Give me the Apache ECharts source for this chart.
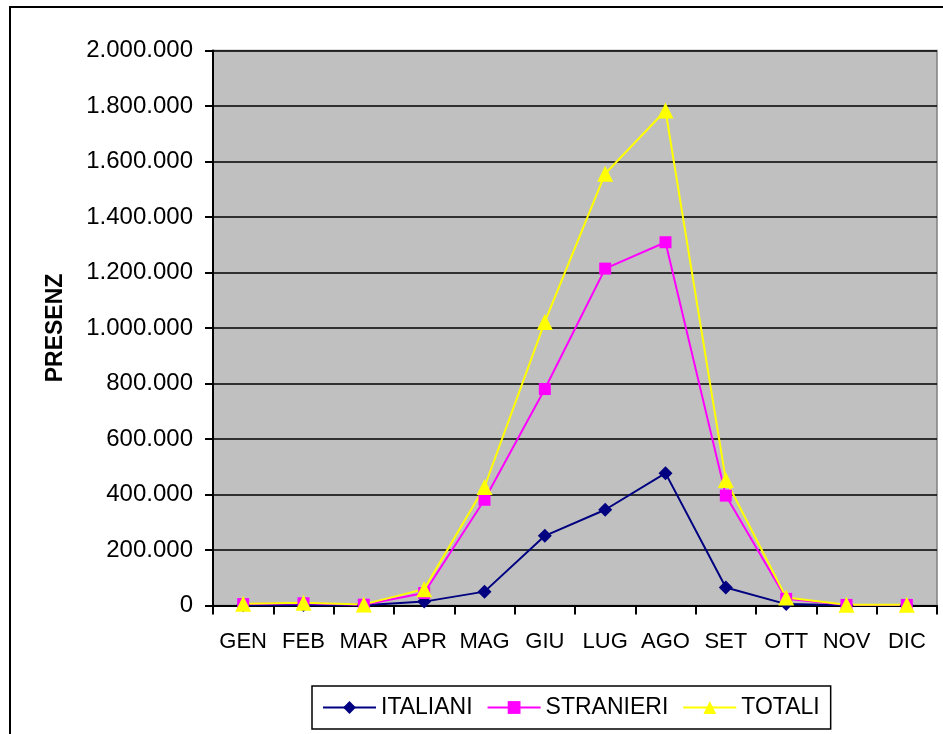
<!DOCTYPE html>
<html>
<head>
<meta charset="utf-8">
<script src="https://cdn.jsdelivr.net/npm/echarts@6/dist/echarts.min.js"></script>
<style>
html,body{margin:0;padding:0;background:#fff;}
#chart{width:943px;height:734px;}
</style>
</head>
<body>
<div id="chart"></div>
<script>
var categories = ['GEN','FEB','MAR','APR','MAG','GIU','LUG','AGO','SET','OTT','NOV','DIC'];
var italiani  = [1000, 2000, 1000, 14000, 50000, 251000, 345000, 477000, 65000, 5000, 500, 500];
var stranieri = [5000, 8000, 3000, 45000, 381000, 780000, 1214000, 1309000, 396000, 24000, 2000, 2000];
var totali    = [6000, 10000, 4000, 59000, 427000, 1022000, 1556000, 1784000, 452000, 29000, 2500, 2500];
var yTicks = { min: 0, max: 2000000, interval: 200000 };

function fmt(v){
  return String(v).replace(/\B(?=(\d{3})+(?!\d))/g, '.');
}

var chart = echarts.init(document.getElementById('chart'), null, {renderer:'canvas'});
var font = 'Liberation Sans, Arial, sans-serif';
chart.setOption({
  animation: false,
  textStyle: { fontFamily: font },
  graphic: [{
    type: 'rect',
    shape: { x: 10, y: 7, width: 1000, height: 1000 },
    style: { fill: 'none', stroke: '#000', lineWidth: 2 },
    z: -1
  }],
  grid: {
    left: 213, top: 50.5, right: 6, bottom: 128.5,
    show: true, backgroundColor: '#C0C0C0', borderColor: '#808080', borderWidth: 1.5
  },
  legend: {
    left: 312, top: 686,
    padding: [10, 11, 10, 10],
    borderColor: '#000', borderWidth: 1.5,
    itemWidth: 53, itemHeight: 16, itemGap: 14,
    textStyle: { fontFamily: font, fontSize: 23, color: '#000' },
    data: ['ITALIANI','STRANIERI','TOTALI']
  },
  xAxis: {
    type: 'category', data: categories, boundaryGap: true,
    axisLine: { lineStyle: { color: '#000', width: 2 } },
    axisTick: { show: true, length: 9, lineStyle: { color: '#000', width: 2 } },
    axisLabel: { color: '#000', fontSize: 22, fontFamily: font, margin: 25, interval: 0 }
  },
  yAxis: {
    type: 'value', min: yTicks.min, max: yTicks.max, interval: yTicks.interval,
    name: 'PRESENZ', nameLocation: 'middle', nameRotate: 90, nameGap: 146,
    nameTextStyle: { fontWeight: 'bold', fontSize: 23, color: '#000', fontFamily: font },
    axisLine: { show: true, lineStyle: { color: '#000', width: 2 } },
    axisTick: { show: true, length: 8, lineStyle: { color: '#000', width: 2 } },
    axisLabel: { color: '#000', fontSize: 24, fontFamily: font, margin: 20, formatter: fmt },
    splitLine: { show: true, lineStyle: { color: '#000', width: 1.5 } }
  },
  series: [
    { name: 'ITALIANI', type: 'line', data: italiani, symbol: 'diamond', symbolSize: 14,
      lineStyle: { color: '#000080', width: 2 }, itemStyle: { color: '#000080' } },
    { name: 'STRANIERI', type: 'line', data: stranieri, symbol: 'rect', symbolSize: 12,
      lineStyle: { color: '#FF00FF', width: 2 }, itemStyle: { color: '#FF00FF' } },
    { name: 'TOTALI', type: 'line', data: totali, symbol: 'triangle', symbolSize: 16,
      lineStyle: { color: '#FFFF00', width: 2 }, itemStyle: { color: '#FFFF00' } }
  ]
});
</script>
</body>
</html>
